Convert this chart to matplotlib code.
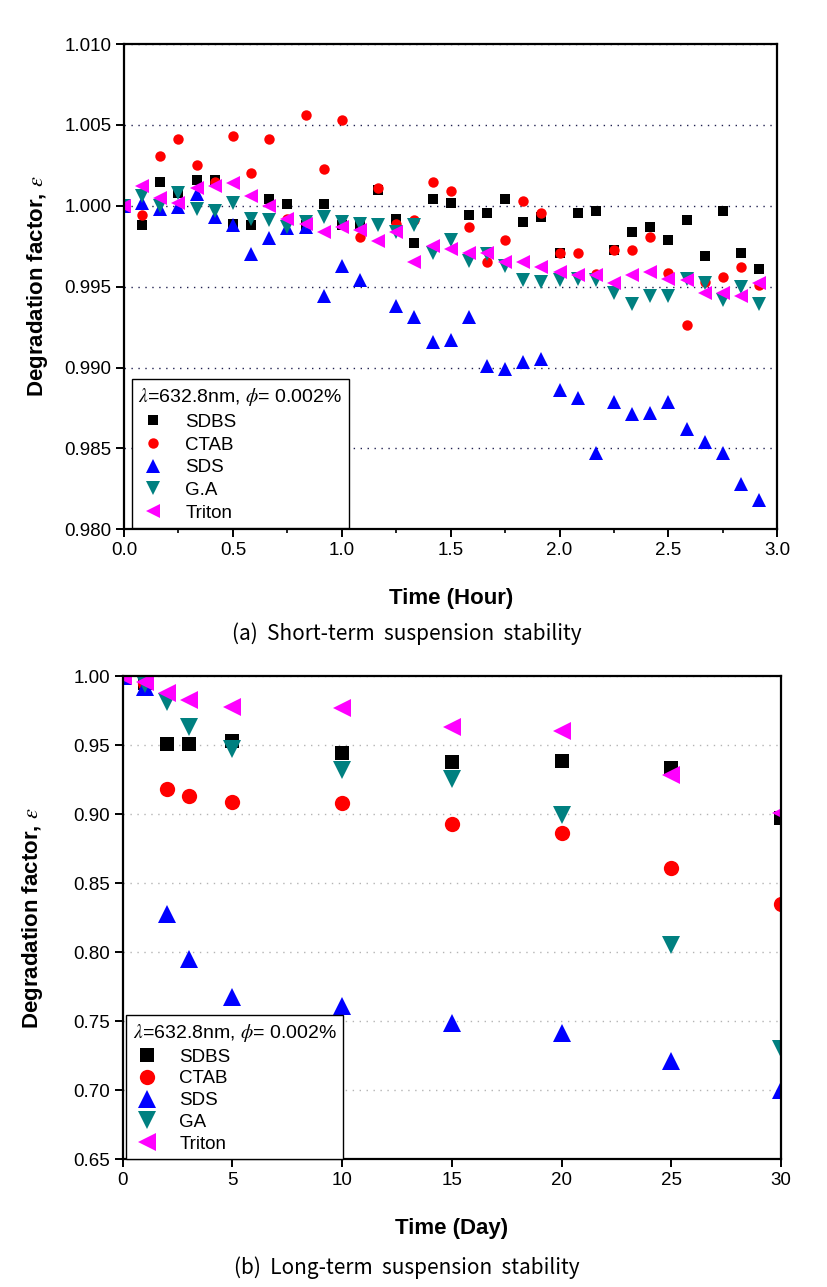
import numpy as np
import matplotlib
matplotlib.use("Agg")
import matplotlib.pyplot as plt
import matplotlib.ticker as mtick


# (a) short-term test, one reading every 5 minutes
short_minutes = [0, 5, 10, 15, 20, 25, 30, 35, 40, 45, 50, 55,
                 60, 65, 70, 75, 80, 85, 90, 95, 100, 105, 110, 115,
                 120, 125, 130, 135, 140, 145, 150, 155, 160, 165, 170, 175]

short_sdbs = [1.0000, 0.9988, 1.0015, 1.0008, 1.0016, 1.0016, 0.9989, 0.9988, 1.0004, 1.0001, 0.9988, 1.0001,
              0.9988, 0.9988, 1.0010, 0.9992, 0.9977, 1.0004, 1.0002, 0.9994, 0.99955, 1.0004, 0.9990, 0.9993,
              0.9971, 0.99955, 0.9997, 0.99725, 0.9984, 0.9987, 0.9979, 0.9991, 0.9969, 0.9997, 0.9971, 0.9961]
short_ctab = [1.0000, 0.9994, 1.0031, 1.0041, 1.0025, 1.0015, 1.0043, 1.0020, 1.0041, 0.9992, 1.0056, 1.0023,
              1.0053, 0.9981, 1.0011, 0.9989, 0.9991, 1.0015, 1.0009, 0.9987, 0.99653, 0.9979, 1.0003, 0.99955,
              0.9971, 0.9971, 0.9958, 0.99725, 0.99725, 0.9981, 0.99585, 0.99266, 0.9953, 0.9956, 0.9962, 0.9951]
short_sds = [1.0000, 1.0002, 0.9998, 0.9999, 1.0007, 0.9993, 0.9988, 0.9970, 0.9980, 0.9986, 0.9987, 0.9944,
             0.9963, 0.9954, np.nan, 0.9938, 0.9931, 0.9916, 0.9917, 0.9931, 0.9901, 0.9899, 0.99035, 0.9905,
             0.9886, 0.9881, 0.9847, 0.9879, 0.9871, 0.9872, 0.9879, 0.9862, 0.9854, 0.9847, 0.9828, 0.9818]
short_ga = [1.0000, 1.0006, 1.0000, 1.0008, 0.9998, 0.9997, 1.0002, 0.9992, 0.9991, 0.9987, 0.9990, 0.9993,
            0.9990, 0.9989, 0.9988, 0.9984, 0.9988, 0.9971, 0.9979, 0.9966, 0.9970, 0.9963, 0.9954, 0.9953,
            0.9954, 0.9955, 0.9954, 0.9946, 0.9939, 0.99445, 0.9944, 0.9955, 0.9952, 0.9942, 0.9950, 0.9939]
short_triton = [1.0000, 1.0012, 1.0005, 1.0002, 1.0011, 1.0012, 1.0014, 1.0006, 1.0000, 0.9992, 0.9989, 0.9984,
                0.9987, 0.9985, 0.9978, 0.9984, 0.9965, 0.9975, 0.9973, 0.9971, 0.9971, 0.9965, 0.9965, 0.9962,
                0.9959, 0.9957, 0.9957, 0.9952, 0.9957, 0.9959, 0.9955, 0.9954, 0.9946, 0.9946, 0.9944, 0.9952]

# (b) long-term test
long_days = [0, 1, 2, 3, 5, 10, 15, 20, 25, 30]
long_sdbs = [1.000, 0.995, 0.9505, 0.9507, 0.9531, 0.9444, 0.9377, 0.9386, 0.9331, 0.897]
long_ctab = [1.000, 0.995, 0.9179, 0.9133, 0.9085, 0.9078, 0.8925, 0.8865, 0.8612, 0.8346]
long_sds = [1.000, 0.992, 0.828, 0.7954, 0.7676, 0.761, 0.749, 0.7416, 0.721, 0.700]
long_ga = [1.000, 0.994, 0.9814, 0.9633, 0.9469, 0.9319, 0.9251, 0.8993, 0.805, 0.730]
long_triton = [1.000, 0.9959, 0.9875, 0.9826, 0.9778, 0.9766, 0.9633, 0.9604, 0.9283, 0.9005]

short_labels = ["SDBS", "CTAB", "SDS", "G.A", "Triton"]
long_labels = ["SDBS", "CTAB", "SDS", "GA", "Triton"]

MARKERS = ["s", "o", "^", "v", "<"]
COLORS = ["black", "#ff0000", "#0000ff", "#008080", "#ff00ff"]

LEGEND_TITLE = r"$\lambda$=632.8nm, $\phi$= 0.002%"
YLABEL = r"Degradation factor, $\varepsilon$"

plt.rcParams["font.family"] = ["Liberation Sans", "DejaVu Sans"]
plt.rcParams["mathtext.fontset"] = "stix"


def style_axes(ax):
    for side in ax.spines.values():
        side.set_linewidth(1.6)
    ax.tick_params(which="major", direction="out", length=6, width=1.4, labelsize=13.5, pad=3)
    ax.tick_params(which="minor", direction="out", length=3, width=1.2)
    ax.yaxis.grid(True, which="major", linestyle=(0, (1, 4)), linewidth=1.0)


def draw_panel(ax, x, series, labels, sizes):
    for y, label, marker, color, size in zip(series, labels, MARKERS, COLORS, sizes):
        ax.plot(x, y, linestyle="none", marker=marker, color=color, markersize=size,
                markeredgewidth=0, label=label)


def add_legend(ax, anchor, spacing, handle_sizes):
    leg = ax.legend(title=LEGEND_TITLE, loc="lower left", bbox_to_anchor=anchor,
                    fontsize=13.5, title_fontsize=14, frameon=True, fancybox=False,
                    edgecolor="black", framealpha=1, borderaxespad=0.0,
                    handlelength=1.5, handletextpad=1.0, labelspacing=spacing, borderpad=0.35)
    leg._legend_box.align = "left"
    leg.get_frame().set_linewidth(1.0)
    for h, size in zip(leg.legend_handles, handle_sizes):
        h.set_markersize(size)
    return leg


fig = plt.figure(figsize=(8.27, 12.87), dpi=100)

# ---- (a) short-term
ax1 = fig.add_axes([0.150, 0.5887, 0.790, 0.3771])
hours = np.array(short_minutes) / 60.0
draw_panel(ax1, hours, [short_sdbs, short_ctab, short_sds, short_ga, short_triton],
           short_labels, [7, 7.5, 9.5, 9.5, 9.5])
ax1.set_xlim(0, 3.0)
ax1.set_ylim(0.980, 1.010)
ax1.xaxis.set_major_locator(mtick.MultipleLocator(0.5))
ax1.xaxis.set_minor_locator(mtick.MultipleLocator(0.25))
ax1.yaxis.set_major_locator(mtick.MultipleLocator(0.005))
ax1.xaxis.set_major_formatter(mtick.FormatStrFormatter("%.1f"))
ax1.yaxis.set_major_formatter(mtick.FormatStrFormatter("%.3f"))
style_axes(ax1)
ax1.yaxis.grid(True, color="#202050")
ax1.set_xlabel("Time (Hour)", fontsize=16, fontweight="bold")
ax1.set_ylabel(YLABEL, fontsize=16, fontweight="bold")
ax1.xaxis.set_label_coords(0.5, -0.12)
ax1.yaxis.set_label_coords(-0.113, 0.5)
add_legend(ax1, (0.012, 0.002), 0.3, [7, 7.5, 9.5, 9.5, 9.5])

# ---- (b) long-term
ax2 = fig.add_axes([0.1484, 0.0992, 0.796, 0.3755])
draw_panel(ax2, long_days, [long_sdbs, long_ctab, long_sds, long_ga, long_triton],
           long_labels, [10, 11, 13.5, 13.5, 13.5])
ax2.set_xlim(0, 30)
ax2.set_ylim(0.65, 1.00)
ax2.xaxis.set_major_locator(mtick.MultipleLocator(5))
ax2.yaxis.set_major_locator(mtick.MultipleLocator(0.05))
ax2.yaxis.set_major_formatter(mtick.FormatStrFormatter("%.2f"))
style_axes(ax2)
ax2.yaxis.grid(True, color="#b4b4b4")
ax2.set_xlabel("Time (Day)", fontsize=16, fontweight="bold")
ax2.set_ylabel(YLABEL, fontsize=16, fontweight="bold")
ax2.xaxis.set_label_coords(0.5, -0.122)
ax2.yaxis.set_label_coords(-0.118, 0.5)
add_legend(ax2, (0.005, 0.0), 0.25, [10, 11, 12.5, 12.5, 12.5])

cap_font = ["Noto Sans CJK KR", "DejaVu Sans"]
fig.text(0.492, 0.5074, "(a)  Short-term  suspension  stability", ha="center", va="center",
         fontsize=15, family=cap_font)
fig.text(0.492, 0.0148, "(b)  Long-term  suspension  stability", ha="center", va="center",
         fontsize=15, family=cap_font)

fig.savefig("out.png", dpi=100)
